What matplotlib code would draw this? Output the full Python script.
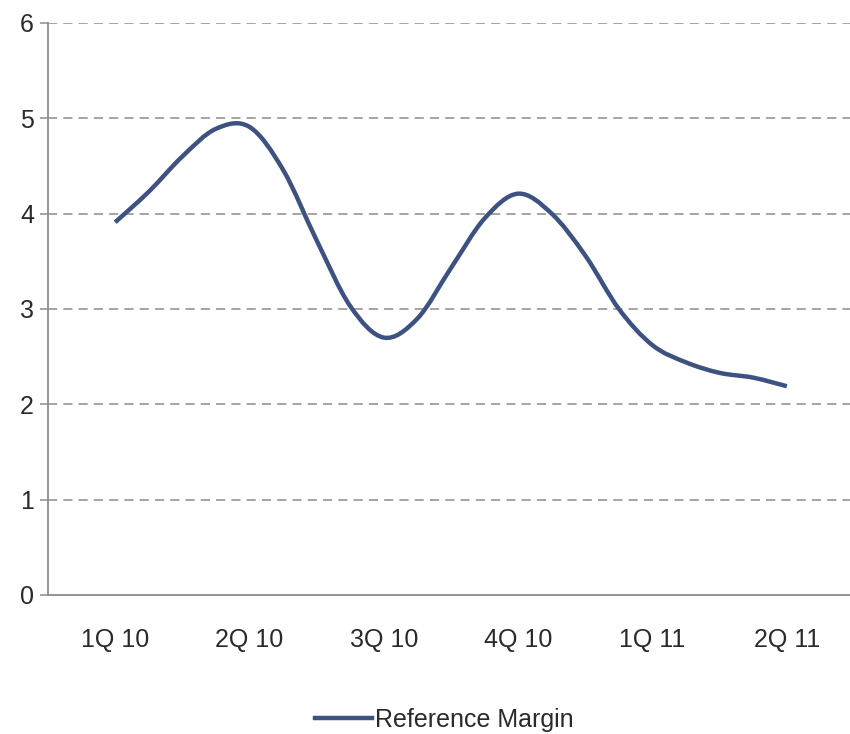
import matplotlib.pyplot as plt
import numpy as np
from matplotlib.lines import Line2D
from matplotlib.patches import PathPatch
from matplotlib.path import Path

plt.rcParams["font.family"] = ["Liberation Sans", "DejaVu Sans"]

quarters = ["1Q 10", "2Q 10", "3Q 10", "4Q 10", "1Q 11", "2Q 11"]
# readings every quarter of a quarter, from 1Q 10 to 2Q 11
margin = [3.91, 4.23, 4.60, 4.89, 4.91, 4.46, 3.72, 3.03, 2.70, 2.90, 3.43,
          3.95, 4.21, 4.00, 3.56, 3.00, 2.62, 2.44, 2.33, 2.28, 2.19]
step = 0.25
line_color = "#3e5282"


def smooth_path(xs, ys):
    # Excel style smoothed line: cubic bezier through every point
    pts = np.column_stack([xs, ys])
    verts = [pts[0]]
    codes = [Path.MOVETO]
    n = len(pts)
    for i in range(n - 1):
        p0 = pts[max(i - 1, 0)]
        p1 = pts[i]
        p2 = pts[i + 1]
        p3 = pts[min(i + 2, n - 1)]
        verts += [p1 + (p2 - p0) / 6, p2 - (p3 - p1) / 6, p2]
        codes += [Path.CURVE4] * 3
    return Path(verts, codes)


fig = plt.figure(figsize=(8.5, 7.34), dpi=100)
ax = fig.add_axes([48 / 850, 1 - 595 / 734, 806 / 850, 572 / 734])

x = np.arange(len(margin)) * step
ax.add_patch(PathPatch(smooth_path(x, margin), fill=False, edgecolor=line_color,
                       linewidth=3.2, joinstyle="round", capstyle="butt", zorder=3))

ax.set_xlim(-0.5, len(quarters) - 0.5)
ax.set_ylim(0, 6)
ax.set_xticks(range(len(quarters)))
ax.set_xticklabels(quarters)
ax.set_yticks(range(7))

for v in range(1, 7):
    ax.axhline(v, color="#8c8c8c", linewidth=1.1, dashes=(6, 4), zorder=1)

for side in ["top", "right"]:
    ax.spines[side].set_visible(False)
for side in ["left", "bottom"]:
    ax.spines[side].set_color("#8c8c8c")
    ax.spines[side].set_linewidth(1.3)

ax.tick_params(axis="x", length=0, pad=24, labelsize=18, labelcolor="#2a2a2a")
ax.tick_params(axis="y", length=6, width=1.1, color="#8c8c8c", pad=4,
               labelsize=18, labelcolor="#2a2a2a")

handle = Line2D([], [], color=line_color, linewidth=3.2)
fig.legend([handle], ["Reference Margin"], loc="center",
           bbox_to_anchor=(444 / 850, 1 - 720 / 734), frameon=False,
           fontsize=18, handlelength=2.3, handletextpad=0.1,
           labelcolor="#2a2a2a")

fig.savefig("out.png", dpi=100)
